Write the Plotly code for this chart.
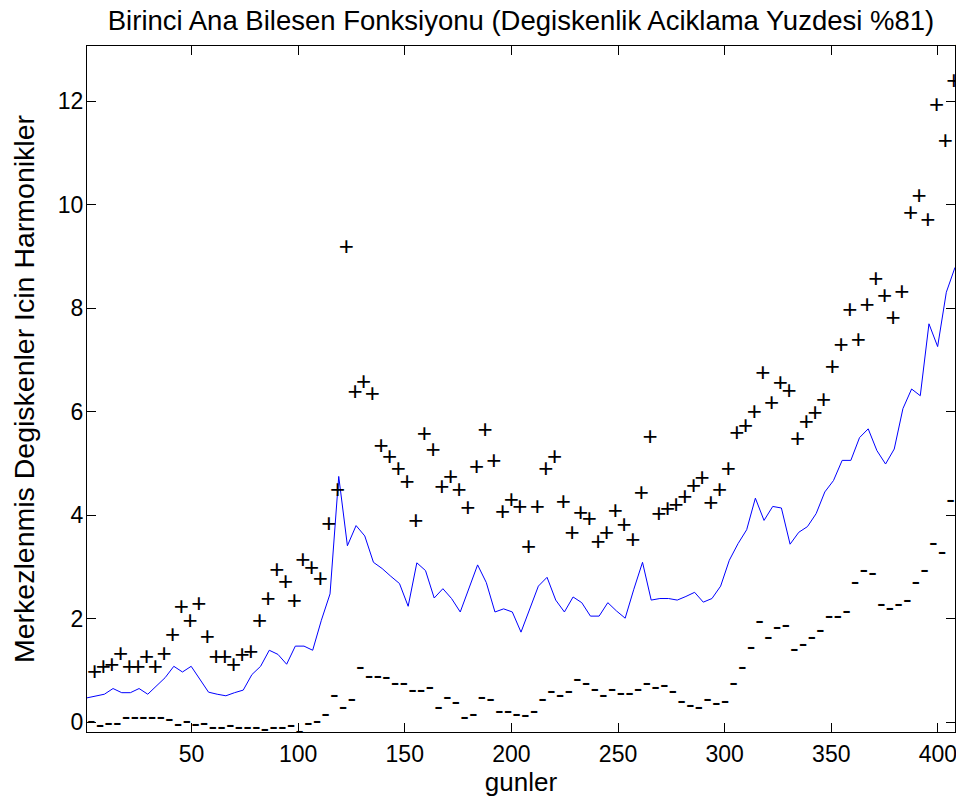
import numpy as np
import plotly.graph_objects as go

# evaluation grid (days)
days = np.linspace(1, 408, 101)

mean_curve = [0.47, 0.51, 0.54, 0.65, 0.57, 0.57, 0.65, 0.54, 0.71, 0.86,
              1.08, 0.97, 1.08, 0.83, 0.58, 0.54, 0.51, 0.57, 0.62, 0.92,
              1.08, 1.39, 1.31, 1.12, 1.47, 1.47, 1.39, 1.97, 2.48, 4.75,
              3.41, 3.80, 3.60, 3.09, 2.97, 2.82, 2.68, 2.24, 3.08, 2.93,
              2.40, 2.58, 2.39, 2.13, 2.58, 3.04, 2.70, 2.13, 2.19, 2.13,
              1.74, 2.17, 2.63, 2.80, 2.36, 2.13, 2.42, 2.31, 2.05, 2.05,
              2.31, 2.15, 2.01, 2.57, 3.09, 2.36, 2.39, 2.39, 2.36, 2.43,
              2.51, 2.32, 2.39, 2.63, 3.13, 3.45, 3.72, 4.33, 3.90, 4.17,
              4.14, 3.44, 3.67, 3.78, 4.03, 4.45, 4.67, 5.06, 5.06, 5.50,
              5.67, 5.25, 4.99, 5.28, 6.06, 6.44, 6.31, 7.70, 7.26, 8.31,
              8.79]

plus_curve = [0.95, 1.04, 1.07, 1.29, 1.04, 1.04, 1.23, 1.04, 1.29, 1.65,
              2.19, 1.92, 2.26, 1.62, 1.23, 1.23, 1.07, 1.27, 1.33, 1.92,
              2.36, 2.92, 2.69, 2.31, 3.11, 2.95, 2.73, 3.80, 4.45, 9.15,
              6.35, 6.55, 6.32, 5.30, 5.10, 4.86, 4.62, 3.86, 5.55, 5.24,
              4.52, 4.71, 4.45, 4.12, 4.91, 5.62, 5.01, 4.04, 4.26, 4.13,
              3.35, 4.13, 4.86, 5.09, 4.23, 3.63, 4.02, 3.90, 3.46, 3.63,
              4.06, 3.78, 3.50, 4.40, 5.48, 4.00, 4.09, 4.17, 4.32, 4.54,
              4.70, 4.21, 4.45, 4.86, 5.56, 5.70, 5.96, 6.72, 6.14, 6.52,
              6.38, 5.44, 5.78, 5.94, 6.20, 6.83, 7.26, 7.94, 7.36, 8.03,
              8.53, 8.21, 7.79, 8.29, 9.82, 10.15, 9.68, 11.91, 11.20, 12.36,
              13.07]

minus_curve = [-0.01, -0.08, -0.04, -0.04, 0.07, 0.07, 0.07, 0.07, 0.07, 0.04,
               -0.07, -0.01, -0.07, -0.04, -0.13, -0.13, -0.08, -0.13, -0.13, -0.13,
               -0.17, -0.13, -0.13, -0.08, -0.19, -0.04, -0.01, 0.12, 0.50, 0.26,
               0.42, 1.04, 0.87, 0.87, 0.84, 0.73, 0.73, 0.60, 0.60, 0.65,
               0.26, 0.46, 0.37, 0.07, 0.12, 0.46, 0.41, 0.18, 0.18, 0.12,
               0.11, 0.19, 0.41, 0.57, 0.50, 0.57, 0.81, 0.73, 0.62, 0.50,
               0.62, 0.54, 0.54, 0.62, 0.73, 0.65, 0.69, 0.57, 0.38, 0.31,
               0.26, 0.41, 0.35, 0.38, 0.73, 1.04, 1.42, 1.92, 1.62, 1.81,
               1.84, 1.38, 1.49, 1.62, 1.76, 2.03, 2.03, 2.12, 2.69, 2.92,
               2.85, 2.26, 2.18, 2.26, 2.34, 2.69, 2.92, 3.43, 3.27, 4.27,
               4.54]

x_ticks = [50, 100, 150, 200, 250, 300, 350, 400]
y_ticks = [0, 2, 4, 6, 8, 10, 12]

FONT = "Liberation Sans, Arial, Helvetica, sans-serif"

# the page body has an 8 px margin, so the canvas is 8 px smaller each way
W, H = 956, 797

fig = go.Figure()
fig.add_trace(go.Scatter(x=days, y=mean_curve, mode="lines",
                         line=dict(color="#0000ff", width=1),
                         showlegend=False, hoverinfo="skip"))
fig.add_trace(go.Scatter(x=days, y=plus_curve, mode="text",
                         text=["+"] * len(plus_curve),
                         textposition="middle right",
                         textfont=dict(family=FONT, size=26, color="black"),
                         cliponaxis=False, showlegend=False))
fig.add_trace(go.Scatter(x=days, y=minus_curve, mode="text",
                         text=["-"] * len(minus_curve),
                         textposition="middle right",
                         textfont=dict(family=FONT, size=26, color="black"),
                         cliponaxis=False, showlegend=False))

axis_common = dict(showgrid=False, zeroline=False, showline=True,
                   linecolor="black", linewidth=1, mirror="ticks",
                   ticks="inside", ticklen=9, tickcolor="black", tickwidth=1,
                   tickfont=dict(family=FONT, size=23, color="black"))

fig.update_xaxes(range=[1, 408], tickvals=x_ticks,
                 ticktext=[str(v) for v in x_ticks],
                 title=dict(text="gunler", font=dict(family=FONT, size=26, color="black"),
                            standoff=5),
                 ticklabelstandoff=1,
                 **axis_common)
fig.update_yaxes(range=[-0.19, 13.07], tickvals=y_ticks,
                 ticktext=[str(v) for v in y_ticks],
                 title=dict(text="Merkezlenmis Degiskenler Icin Harmonikler",
                            font=dict(family=FONT, size=28.5, color="black"), standoff=21),
                 ticklabelstandoff=-2,
                 **axis_common)

fig.update_layout(
    width=W, height=H,
    margin=dict(l=79, r=9, t=38, b=73, autoexpand=False),
    paper_bgcolor="white", plot_bgcolor="white",
    title=dict(text="Birinci Ana Bilesen Fonksiyonu (Degiskenlik Aciklama Yuzdesi %81)",
               font=dict(family=FONT, size=27.5, color="black"),
               x=0.5, xref="paper", xanchor="center",
               y=1 - 12 / H, yref="container", yanchor="middle"),
)

fig.write_html("out.html")
